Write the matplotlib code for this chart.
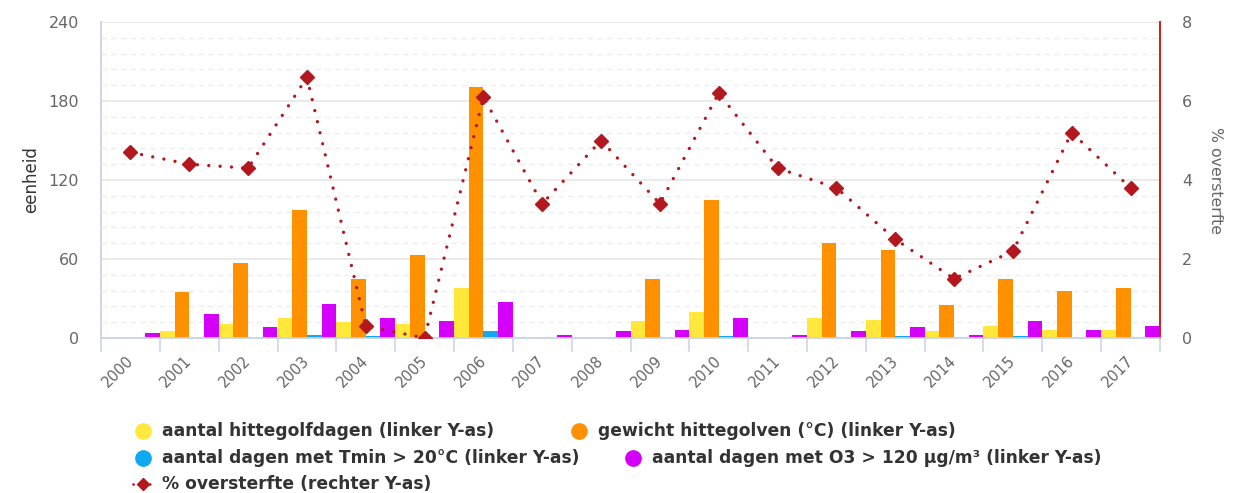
import numpy as np
import matplotlib.pyplot as plt
from matplotlib.lines import Line2D
from matplotlib.transforms import ScaledTranslation

# jaren en waarden
jaren = [str(j) for j in range(2000, 2018)]
hittegolfdagen = [0, 5, 11, 15, 12, 11, 38, 0, 0, 13, 20, 0, 15, 14, 5, 9, 6, 6]
gewicht_hittegolven = [0, 35, 57, 97, 45, 63, 191, 0, 0, 45, 105, 0, 72, 67, 25, 45, 36, 38]
dagen_tmin20 = [0, 0, 0, 2.5, 1.5, 0, 5, 0, 0, 0, 1.5, 0, 0, 1.5, 0, 1.5, 0, 0]
dagen_o3 = [4, 18, 8, 26, 15, 13, 27, 2, 5, 6, 15, 2, 5, 8, 2.5, 13, 6, 9]
oversterfte = [4.7, 4.4, 4.3, 6.6, 0.3, 0.0, 6.1, 3.4, 5.0, 3.4, 6.2, 4.3, 3.8, 2.5, 1.5, 2.2, 5.2, 3.8]

kleuren = ['#ffe83b', '#ff9100', '#10a9f0', '#d500f9']
lijnkleur = '#b3181e'
W, H = 1243, 493

fig = plt.figure(figsize=(W / 100, H / 100), dpi=100)
ax = fig.add_axes([101 / W, 1 - 338 / H, (1160 - 101) / W, (338 - 22) / H])
ax2 = ax.twinx()

x = np.arange(len(jaren))
breedte = 0.25
reeksen = [hittegolfdagen, gewicht_hittegolven, dagen_tmin20, dagen_o3]
for i, (waarden, kleur) in enumerate(zip(reeksen, kleuren)):
    ax.bar(x + (i - 1.5) * breedte, waarden, breedte, color=kleur, linewidth=0, zorder=3)

ax2.plot(x, oversterfte, color=lijnkleur, linewidth=2.4, linestyle=(0, (0.01, 3.4)),
         dash_capstyle='round', marker='D', markersize=7, zorder=4)

# assen
ax.set_xlim(-0.5, len(jaren) - 0.5)
ax.set_ylim(0, 240)
ax2.set_ylim(0, 8)
ax.set_yticks(range(0, 241, 60))
ax.set_yticks(range(0, 241, 12), minor=True)
ax2.set_yticks(range(0, 9, 2))
ax.grid(axis='y', which='major', color='#e6e6e6', linewidth=1.2, zorder=0)
ax.grid(axis='y', which='minor', color='#eeeeee', linewidth=1, linestyle=(0, (4, 3)), zorder=0)
ax.set_axisbelow(True)

ax.set_xticks(x)
ax.set_xticklabels(jaren, rotation=45, ha='right', rotation_mode='anchor')
ax.set_xticks(np.arange(-0.5, len(jaren)), minor=True)
ax.tick_params(axis='x', which='major', length=0, pad=11, labelsize=10.5, labelcolor='#666666')
ax.tick_params(axis='x', which='minor', length=10, color='#ccd6eb', width=1.2)
ax.tick_params(axis='y', which='both', length=0, labelsize=11.5, labelcolor='#666666', pad=16)
ax2.tick_params(axis='y', length=0, labelsize=11.5, labelcolor='#666666', pad=16)
verschuif = ScaledTranslation(-5 / 100, 0, fig.dpi_scale_trans)
for lbl in ax.get_xticklabels():
    lbl.set_transform(lbl.get_transform() + verschuif)

for a in (ax, ax2):
    a.spines['top'].set_visible(False)
    a.spines['left'].set_color('#ccd6eb')
    a.spines['bottom'].set_color('#ccd6eb')
    a.spines['left'].set_linewidth(1.2)
    a.spines['bottom'].set_linewidth(1.2)
ax.spines['right'].set_visible(False)
ax2.spines['right'].set_color('#c62828')
ax2.spines['right'].set_linewidth(1.5)

ax.set_ylabel('eenheid', fontsize=12, color='#333333', labelpad=6)
ax2.set_ylabel('% oversterfte', fontsize=11.3, color='#666666', rotation=270, labelpad=22)

# legenda
def px(xp, yp):
    return xp / W, 1 - yp / H

items = [
    (143, 431, 'o', kleuren[0], 'aantal hittegolfdagen (linker Y-as)'),
    (579, 431, 'o', kleuren[1], 'gewicht hittegolven (°C) (linker Y-as)'),
    (143, 458, 'o', kleuren[2], 'aantal dagen met Tmin > 20°C (linker Y-as)'),
    (633, 458, 'o', kleuren[3], 'aantal dagen met O3 > 120 µg/m³ (linker Y-as)'),
    (143, 484, 'D', lijnkleur, '% oversterfte (rechter Y-as)'),
]
for xp, yp, m, kleur, tekst in items:
    fx, fy = px(xp, yp)
    if m == 'o':
        fig.add_artist(Line2D([fx], [fy], marker='o', markersize=11, color=kleur,
                              linestyle='none', transform=fig.transFigure))
    else:
        fig.add_artist(Line2D([fx - 10 / W, fx + 10 / W], [fy, fy], color=kleur, linewidth=2,
                              linestyle=(0, (0.01, 3)), dash_capstyle='round',
                              transform=fig.transFigure))
        fig.add_artist(Line2D([fx], [fy], marker='D', markersize=6, color=kleur,
                              linestyle='none', transform=fig.transFigure))
    tx, ty = px(xp + 19, yp)
    fig.text(tx, ty, tekst, fontsize=12.3, fontweight='bold', color='#333333',
             va='center', ha='left')

fig.savefig('out.png', dpi=100)
